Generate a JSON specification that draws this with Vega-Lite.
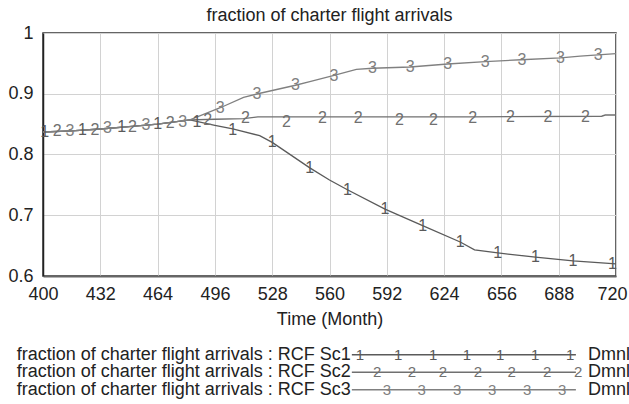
{
  "$schema": "https://vega.github.io/schema/vega-lite/v6.json",
  "padding": {"left": 7, "top": 6, "right": 0, "bottom": 0},
  "autosize": {"type": "pad"},
  "bounds": "flush",
  "spacing": 70,
  "config": {
    "font": "Liberation Sans",
    "view": {"stroke": null},
    "text": {"font": "Liberation Sans"}
  },
  "datasets": {
    "lines": [
      {"series": "1", "month": 400, "value": 0.837},
      {"series": "1", "month": 416, "value": 0.839},
      {"series": "1", "month": 432, "value": 0.842},
      {"series": "1", "month": 448, "value": 0.846},
      {"series": "1", "month": 464, "value": 0.850},
      {"series": "1", "month": 482, "value": 0.857},
      {"series": "1", "month": 496, "value": 0.848},
      {"series": "1", "month": 506, "value": 0.842},
      {"series": "1", "month": 521, "value": 0.831},
      {"series": "1", "month": 528, "value": 0.820},
      {"series": "1", "month": 549, "value": 0.778},
      {"series": "1", "month": 560, "value": 0.758},
      {"series": "1", "month": 570, "value": 0.742},
      {"series": "1", "month": 591, "value": 0.710},
      {"series": "1", "month": 612, "value": 0.683},
      {"series": "1", "month": 633, "value": 0.656},
      {"series": "1", "month": 641, "value": 0.643},
      {"series": "1", "month": 654, "value": 0.638},
      {"series": "1", "month": 675, "value": 0.631},
      {"series": "1", "month": 696, "value": 0.625},
      {"series": "1", "month": 720, "value": 0.620},
      {"series": "2", "month": 400, "value": 0.837},
      {"series": "2", "month": 416, "value": 0.839},
      {"series": "2", "month": 432, "value": 0.842},
      {"series": "2", "month": 448, "value": 0.846},
      {"series": "2", "month": 464, "value": 0.850},
      {"series": "2", "month": 482, "value": 0.857},
      {"series": "2", "month": 496, "value": 0.858},
      {"series": "2", "month": 512, "value": 0.859},
      {"series": "2", "month": 520, "value": 0.862},
      {"series": "2", "month": 640, "value": 0.862},
      {"series": "2", "month": 712, "value": 0.863},
      {"series": "2", "month": 714, "value": 0.865},
      {"series": "2", "month": 720, "value": 0.865},
      {"series": "3", "month": 400, "value": 0.837},
      {"series": "3", "month": 416, "value": 0.839},
      {"series": "3", "month": 432, "value": 0.842},
      {"series": "3", "month": 448, "value": 0.846},
      {"series": "3", "month": 464, "value": 0.850},
      {"series": "3", "month": 482, "value": 0.857},
      {"series": "3", "month": 499, "value": 0.877},
      {"series": "3", "month": 512, "value": 0.894},
      {"series": "3", "month": 520, "value": 0.900},
      {"series": "3", "month": 541, "value": 0.914},
      {"series": "3", "month": 549, "value": 0.920},
      {"series": "3", "month": 562, "value": 0.930},
      {"series": "3", "month": 575, "value": 0.940},
      {"series": "3", "month": 584, "value": 0.942},
      {"series": "3", "month": 605, "value": 0.944},
      {"series": "3", "month": 626, "value": 0.949},
      {"series": "3", "month": 647, "value": 0.953},
      {"series": "3", "month": 667, "value": 0.956},
      {"series": "3", "month": 689, "value": 0.959},
      {"series": "3", "month": 700, "value": 0.962},
      {"series": "3", "month": 720, "value": 0.966}
    ],
    "markers": [
      {"series": "1", "month": 401, "value": 0.837},
      {"series": "1", "month": 422, "value": 0.840},
      {"series": "1", "month": 444, "value": 0.845},
      {"series": "1", "month": 464, "value": 0.850},
      {"series": "1", "month": 486, "value": 0.853},
      {"series": "1", "month": 506, "value": 0.841},
      {"series": "1", "month": 528, "value": 0.820},
      {"series": "1", "month": 549, "value": 0.778},
      {"series": "1", "month": 570, "value": 0.742},
      {"series": "1", "month": 591, "value": 0.710},
      {"series": "1", "month": 612, "value": 0.683},
      {"series": "1", "month": 633, "value": 0.656},
      {"series": "1", "month": 654, "value": 0.638},
      {"series": "1", "month": 675, "value": 0.631},
      {"series": "1", "month": 696, "value": 0.625},
      {"series": "1", "month": 718, "value": 0.620},
      {"series": "2", "month": 408, "value": 0.838},
      {"series": "2", "month": 429, "value": 0.841},
      {"series": "2", "month": 450, "value": 0.846},
      {"series": "2", "month": 471, "value": 0.852},
      {"series": "2", "month": 492, "value": 0.857},
      {"series": "2", "month": 513, "value": 0.860},
      {"series": "2", "month": 536, "value": 0.853},
      {"series": "2", "month": 556, "value": 0.860},
      {"series": "2", "month": 576, "value": 0.860},
      {"series": "2", "month": 599, "value": 0.857},
      {"series": "2", "month": 618, "value": 0.857},
      {"series": "2", "month": 640, "value": 0.860},
      {"series": "2", "month": 661, "value": 0.862},
      {"series": "2", "month": 682, "value": 0.862},
      {"series": "2", "month": 703, "value": 0.862},
      {"series": "3", "month": 415, "value": 0.838},
      {"series": "3", "month": 436, "value": 0.843},
      {"series": "3", "month": 457.5, "value": 0.848},
      {"series": "3", "month": 478, "value": 0.853},
      {"series": "3", "month": 499, "value": 0.877},
      {"series": "3", "month": 519.5, "value": 0.899},
      {"series": "3", "month": 541, "value": 0.914},
      {"series": "3", "month": 562.5, "value": 0.930},
      {"series": "3", "month": 584, "value": 0.942},
      {"series": "3", "month": 605, "value": 0.944},
      {"series": "3", "month": 626, "value": 0.949},
      {"series": "3", "month": 647, "value": 0.953},
      {"series": "3", "month": 667.5, "value": 0.956},
      {"series": "3", "month": 689, "value": 0.959},
      {"series": "3", "month": 710, "value": 0.964}
    ],
    "legendRows": [
      {"series": "1", "label": "fraction of charter flight arrivals : RCF Sc1", "unit": "Dmnl"},
      {"series": "2", "label": "fraction of charter flight arrivals : RCF Sc2", "unit": "Dmnl"},
      {"series": "3", "label": "fraction of charter flight arrivals : RCF Sc3", "unit": "Dmnl"}
    ],
    "legendMarks": [
      {"series": "1", "t": 0.553}, {"series": "1", "t": 0.620}, {"series": "1", "t": 0.681},
      {"series": "1", "t": 0.740}, {"series": "1", "t": 0.798}, {"series": "1", "t": 0.859},
      {"series": "1", "t": 0.920},
      {"series": "2", "t": 0.583}, {"series": "2", "t": 0.644}, {"series": "2", "t": 0.698},
      {"series": "2", "t": 0.759}, {"series": "2", "t": 0.818}, {"series": "2", "t": 0.880},
      {"series": "2", "t": 0.934},
      {"series": "3", "t": 0.600}, {"series": "3", "t": 0.661}, {"series": "3", "t": 0.723},
      {"series": "3", "t": 0.784}, {"series": "3", "t": 0.845}, {"series": "3", "t": 0.906}
    ]
  },
  "vconcat": [
    {
      "width": 573,
      "height": 243,
      "view": {"stroke": "#333", "strokeWidth": 1.5},
      "title": {
        "text": "fraction of charter flight arrivals",
        "fontSize": 18,
        "fontWeight": "normal",
        "color": "#222",
        "anchor": "middle",
        "baseline": "alphabetic",
        "offset": -15
      },
      "layer": [
        {
          "data": {"name": "lines"},
          "mark": {"type": "line", "strokeWidth": 1.3, "clip": true},
          "encoding": {
            "x": {
              "field": "month", "type": "quantitative",
              "scale": {"domain": [400, 720], "nice": false, "zero": false},
              "axis": {
                "values": [400, 416, 432, 448, 464, 480, 496, 512, 528, 544, 560, 576, 592, 608, 624, 640, 656, 672, 688, 704, 720],
                "labelExpr": "(datum.value - 400) % 32 == 0 ? datum.label : ''",
                "format": "d",
                "title": "Time (Month)",
                "titleFontSize": 18,
                "titleFontWeight": "normal",
                "titleColor": "#222",
                "titlePadding": 7,
                "labelFontSize": 18,
                "labelColor": "#222",
                "labelPadding": 9,
                "labelOffset": {"condition": {"test": "datum.value == 720", "value": -4}, "value": 0},
                "labelFlush": false,
                "labelOverlap": false,
                "ticks": false,
                "tickSize": 0,
                "grid": true,
                "gridColor": "#d2d2d2",
                "gridWidth": 1,
                "domainColor": "#666",
                "domainWidth": 2
              }
            },
            "y": {
              "field": "value", "type": "quantitative",
              "scale": {"domain": [0.6, 1], "nice": false, "zero": false},
              "axis": {
                "values": [0.6, 0.7, 0.8, 0.9, 1],
                "format": "~g",
                "title": null,
                "labelFontSize": 18,
                "labelColor": "#222",
                "labelPadding": 10,
                "labelFlush": false,
                "labelOverlap": false,
                "ticks": false,
                "tickSize": 0,
                "grid": true,
                "gridColor": "#d2d2d2",
                "gridWidth": 1,
                "domainColor": "#222",
                "domainWidth": 1.5
              }
            },
            "detail": {"field": "series"},
            "color": {
              "field": "series", "type": "nominal",
              "scale": {"domain": ["1", "2", "3"], "range": ["#5a5a5a", "#707070", "#808080"]},
              "legend": null
            }
          }
        },
        {
          "data": {"name": "markers"},
          "mark": {"type": "text", "fontSize": 16, "align": "center", "baseline": "middle"},
          "encoding": {
            "x": {"field": "month", "type": "quantitative"},
            "y": {"field": "value", "type": "quantitative"},
            "text": {"field": "series"},
            "color": {
              "field": "series", "type": "nominal",
              "scale": {"domain": ["1", "2", "3"], "range": ["#5a5a5a", "#707070", "#808080"]},
              "legend": null
            }
          }
        }
      ]
    },
    {
      "width": 573,
      "height": 52.5,
      "view": {"stroke": null},
      "layer": [
        {
          "data": {"name": "legendRows"},
          "mark": {"type": "rule", "strokeWidth": 1.3},
          "encoding": {
            "x": {"datum": 0.539, "type": "quantitative", "scale": {"domain": [0, 1], "nice": false, "zero": false}, "axis": null},
            "x2": {"datum": 0.93},
            "y": {"field": "series", "type": "ordinal", "scale": {"type": "point", "padding": 0.5}, "axis": null},
            "color": {
              "field": "series", "type": "nominal",
              "scale": {"domain": ["1", "2", "3"], "range": ["#5a5a5a", "#707070", "#808080"]},
              "legend": null
            }
          }
        },
        {
          "data": {"name": "legendRows"},
          "mark": {"type": "text", "fontSize": 18, "align": "right", "baseline": "middle", "color": "#222", "dx": -1},
          "encoding": {
            "x": {"datum": 0.539, "type": "quantitative"},
            "y": {"field": "series", "type": "ordinal"},
            "text": {"field": "label"}
          }
        },
        {
          "data": {"name": "legendRows"},
          "mark": {"type": "text", "fontSize": 18, "align": "left", "baseline": "middle", "color": "#222"},
          "encoding": {
            "x": {"datum": 0.951, "type": "quantitative"},
            "y": {"field": "series", "type": "ordinal"},
            "text": {"field": "unit"}
          }
        },
        {
          "data": {"name": "legendMarks"},
          "mark": {"type": "text", "fontSize": 15, "align": "center", "baseline": "middle"},
          "encoding": {
            "x": {"field": "t", "type": "quantitative"},
            "y": {"field": "series", "type": "ordinal"},
            "text": {"field": "series"},
            "color": {
              "field": "series", "type": "nominal",
              "scale": {"domain": ["1", "2", "3"], "range": ["#5a5a5a", "#707070", "#808080"]},
              "legend": null
            }
          }
        }
      ]
    }
  ]
}
